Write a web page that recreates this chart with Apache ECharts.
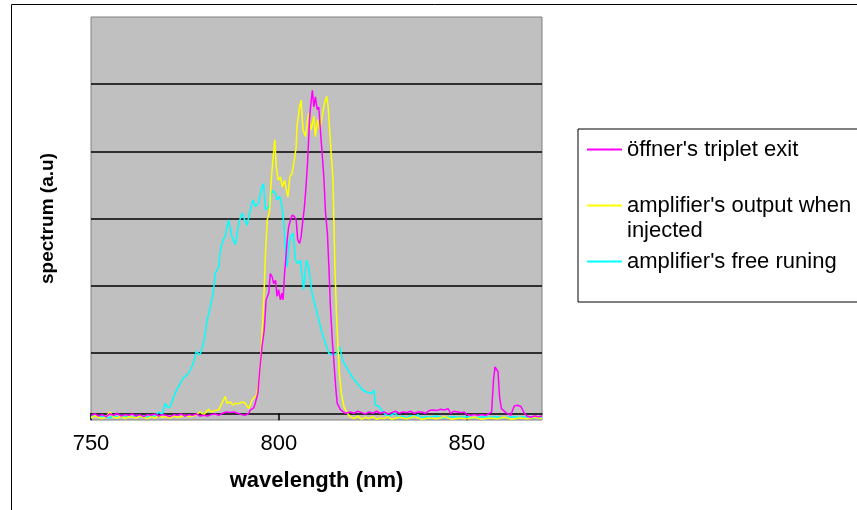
<!DOCTYPE html>
<html>
<head>
<meta charset="utf-8">
<script src="https://cdn.jsdelivr.net/npm/echarts@6/dist/echarts.min.js"></script>
<style>
html,body{margin:0;padding:0;background:#fff;}
#chart{width:857px;height:510px;}
</style>
</head>
<body>
<div id="chart"></div>
<script>
// ---------- data ----------
const seriesNames = ["öffner's triplet exit", "amplifier's output when injected", "amplifier's free runing"];
const xTicks = [750, 800, 850];

const offnerWl = [750,751,752,753,754,755,756,757,758,759,760,761,762,763,764,765,766,767,768,769,770,771,772,773,774,775,776,777,778,779,780,781,782,783,784,785,786,787,788,789,790,791,792,792.4,793.3,793.7,794.4,794.9,795.5,796.1,796.6,797.3,797.7,798.2,798.6,799.1,799.5,799.9,800.4,800.8,801.1,801.5,801.8,802.2,802.6,803.1,803.5,804.1,804.6,805,805.5,805.9,806.3,806.8,807.2,807.6,807.9,808.2,808.6,808.9,809.3,809.7,810.2,810.6,811.1,811.5,812,812.4,812.9,813.3,813.7,814.2,814.6,815.1,815.5,816.4,817.7,819,820,821,822,823,824,825,826,827,828,829,830,831,832,833,834,835,836,837,838,839,840,841,842,843,844,845,845.7,846.5,847.5,848.5,849.3,850,851,852,853,854,855,855.8,856.6,857.1,857.5,858,858.3,858.7,859.2,860.4,861.7,862.2,862.6,863.5,864.4,865.3,866,867,868,869,870];
const offnerVal = [0.07,0.09,0.06,0.08,0.05,0.09,0.07,0.10,0.06,0.08,0.07,0.09,0.06,0.08,0.05,0.08,0.07,0.09,0.06,0.08,0.07,0.05,0.08,0.07,0.09,0.06,0.08,0.07,0.09,0.06,0.07,0.06,0.08,0.09,0.07,0.10,0.12,0.11,0.12,0.10,0.08,0.07,0.10,0.15,0.18,0.25,0.40,0.74,1.09,1.34,1.79,1.89,2.18,2.13,2.03,2.08,1.84,1.94,1.79,1.89,1.79,2.18,2.38,2.68,2.88,2.98,3.05,3.03,2.98,2.68,2.63,2.73,2.93,3.18,3.47,3.82,4.17,4.52,4.76,4.91,4.66,4.81,4.62,4.66,4.27,3.97,3.57,3.08,2.78,2.28,1.69,1.19,0.89,0.50,0.25,0.15,0.10,0.12,0.10,0.13,0.11,0.09,0.12,0.10,0.13,0.10,0.12,0.09,0.11,0.13,0.10,0.12,0.11,0.13,0.10,0.12,0.12,0.10,0.14,0.15,0.14,0.16,0.15,0.17,0.10,0.13,0.12,0.11,0.12,0.08,0.07,0.08,0.07,0.08,0.07,0.09,0.12,0.60,0.79,0.79,0.72,0.35,0.17,0.11,0.07,0.15,0.21,0.22,0.20,0.10,0.06,0.04,0.06,0.05,0.06];

const injectedWl = [750,751,752,753,754,755,756,757,758,759,760,761,762,763,764,765,766,767,768,769,770,771,772,773,774,775,776,777,778,779,780,781.3,782,783,784,784.4,785.7,786.2,787,787.8,788.4,789.2,790.2,791,792,792.9,794,794.6,795.1,795.5,796,796.4,796.9,797.5,797.9,798.4,798.9,799.3,799.8,800.4,800.9,801.5,802,802.4,802.9,803.5,804.1,804.6,804.8,805.5,805.9,806.4,807.1,807.5,807.9,808.6,809.3,809.7,810.3,810.9,811.5,812.1,812.7,813.1,813.5,813.9,814.4,814.6,814.9,815.3,815.7,816.1,816.6,817.3,818.2,819,820,821,822,823,824,825,826,827,828,829,830,832,834,836,838,840,842,844,846,848,850,852,854,856,858,860,862,864,866,868,870];
const injectedVal = [0.03,0.06,0.04,0.02,0.05,0.12,0.04,0.03,0.06,0.02,0.05,0.04,0.03,0.06,0.04,0.02,0.05,0.03,0.06,0.04,0.05,0.03,0.06,0.04,0.05,0.07,0.05,0.06,0.08,0.12,0.08,0.16,0.12,0.14,0.15,0.20,0.35,0.25,0.27,0.22,0.25,0.24,0.27,0.25,0.17,0.30,0.37,0.55,0.85,1.27,1.82,2.45,2.98,3.10,3.52,3.87,4.17,3.77,3.57,3.62,3.47,3.57,3.42,3.32,3.62,3.67,3.87,4.07,4.37,4.66,4.76,4.32,4.22,4.42,4.57,4.32,4.52,4.22,4.47,4.32,4.52,4.71,4.82,4.66,4.32,3.97,3.57,2.98,2.28,1.59,1.09,0.69,0.40,0.20,0.10,0.05,0.02,0.06,0.01,0.04,0.02,0.05,0.01,0.03,0.02,0.05,0.01,0.04,0.02,0.05,0.01,0.03,0.02,0.05,0.01,0.03,0.02,0.04,0.01,0.03,0.02,0.04,0.01,0.03,0.02,0.04,0.02];

const freeWl = [750,751,752,753,754,755,756,757,758,759,760,761,762,763,764,765,766,767,768,769,769.7,770.5,771.1,772.4,773.3,774.5,776,777.3,778,779,780,780.9,781.6,782.5,783.1,784,784.4,785.1,785.7,786.6,787.5,788.4,789.3,790.2,791.5,792.4,793.1,793.7,794.6,795.2,795.9,796.4,797.3,798.2,799.1,799.5,800.2,800.8,801.3,801.7,802.2,802.6,803.1,803.8,804.4,805,805.7,806.6,807.3,807.9,808.8,809.7,810.6,811.5,812.4,813.3,814.5,815.3,816.2,816.9,818.2,819.5,820.8,822.2,823.5,824.8,825.3,825.7,826.6,828,829.2,830,831,832,833,834,835,836,837,838,839,840,842,844,846,848,850,852,854,856,858,860,862,864,866,868,870];
const freeVal = [0.05,0.07,0.04,0.06,0.05,0.03,0.06,0.04,0.07,0.05,0.06,0.04,0.07,0.05,0.06,0.04,0.07,0.05,0.12,0.08,0.25,0.18,0.20,0.40,0.50,0.62,0.70,0.85,1.02,0.97,1.15,1.49,1.64,1.89,2.19,2.28,2.53,2.68,2.73,2.98,2.73,2.61,2.93,3.08,2.90,3.13,3.28,3.18,3.23,3.42,3.52,3.13,3.18,3.42,3.37,3.28,3.33,3.18,2.93,2.58,2.28,2.58,2.73,2.78,2.38,2.33,2.38,1.94,2.38,2.28,1.89,1.69,1.49,1.29,1.14,0.99,0.97,0.99,1.09,0.89,0.76,0.64,0.55,0.45,0.41,0.40,0.45,0.22,0.20,0.10,0.05,0.08,0.10,0.03,0.06,0.02,0.07,0.04,0.08,0.03,0.05,0.04,0.06,0.03,0.05,0.04,0.05,0.03,0.05,0.04,0.05,0.03,0.05,0.04,0.05,0.03,0.04];

const colors = ['#FF00FF', '#FFFF00', '#00FFFF'];

// ---------- chart ----------
function pairs(xs, ys) { return xs.map((x, i) => [x, ys[i]]); }
const FONT = "'Liberation Sans', Arial, sans-serif";

const chart = echarts.init(document.getElementById('chart'), null, {renderer: 'canvas'});
chart.setOption({
  animation: false,
  backgroundColor: '#ffffff',
  textStyle: {fontFamily: FONT},
  graphic: [{
    type: 'rect', silent: true, z: -10,
    shape: {x: 11.5, y: 4.5, width: 900, height: 600},
    style: {fill: 'none', stroke: '#000', lineWidth: 1}
  }],
  grid: {
    left: 91, top: 17, right: 315, bottom: 90,
    show: true, backgroundColor: '#C0C0C0', borderColor: '#808080', borderWidth: 1
  },
  xAxis: {
    type: 'value', min: xTicks[0], max: 870, interval: xTicks[1] - xTicks[0],
    name: 'wavelength (nm)', nameLocation: 'middle', nameGap: 50,
    nameTextStyle: {fontFamily: FONT, fontSize: 22, fontWeight: 'bold', color: '#000'},
    axisLine: {show: true, onZero: true, onZeroAxisIndex: 1, lineStyle: {color: '#000', width: 1.5}},
    axisTick: {show: true, inside: false, length: 7, lineStyle: {color: '#000', width: 1.5}},
    axisLabel: {show: true, margin: 13, fontFamily: FONT, fontSize: 22, color: '#000',
      showMaxLabel: false},
    splitLine: {show: false}
  },
  yAxis: [{
    type: 'value', min: 0, max: 6, interval: 1,
    name: 'spectrum (a.u)', nameLocation: 'middle', nameGap: 34, nameRotate: 90,
    nameTextStyle: {fontFamily: FONT, fontSize: 19, fontWeight: 'bold', color: '#000'},
    axisLine: {show: false}, axisTick: {show: false}, axisLabel: {show: false},
    splitLine: {show: true, showMinLine: false, showMaxLine: false, lineStyle: {color: '#000', width: 1.5}}
  }, {
    type: 'value', min: -0.1, max: 5.9, show: false,
    axisLine: {show: false}, axisTick: {show: false}, axisLabel: {show: false}, splitLine: {show: false}
  }],
  legend: {
    orient: 'vertical', left: 578, top: 129,
    padding: [8, 22, 28, 9], itemGap: 6,
    itemWidth: 35, itemHeight: 2, icon: 'rect',
    borderColor: '#000', borderWidth: 1, backgroundColor: '#fff',
    textStyle: {fontFamily: FONT, fontSize: 22, color: '#000', lineHeight: 25},
    data: seriesNames,
    formatter: function (name) {
      return name === seriesNames[1] ? "\namplifier's output when\ninjected" : name;
    }
  },
  series: [
    {name: seriesNames[2], type: 'line', data: pairs(freeWl, freeVal), symbol: 'none', clip: false,
      lineStyle: {color: colors[2], width: 1.5}, itemStyle: {color: colors[2]}, z: 2},
    {name: seriesNames[1], type: 'line', data: pairs(injectedWl, injectedVal), symbol: 'none', clip: false,
      lineStyle: {color: colors[1], width: 1.5}, itemStyle: {color: colors[1]}, z: 3},
    {name: seriesNames[0], type: 'line', data: pairs(offnerWl, offnerVal), symbol: 'none', clip: false,
      lineStyle: {color: colors[0], width: 1.5}, itemStyle: {color: colors[0]}, z: 4}
  ]
});
</script>
</body>
</html>
